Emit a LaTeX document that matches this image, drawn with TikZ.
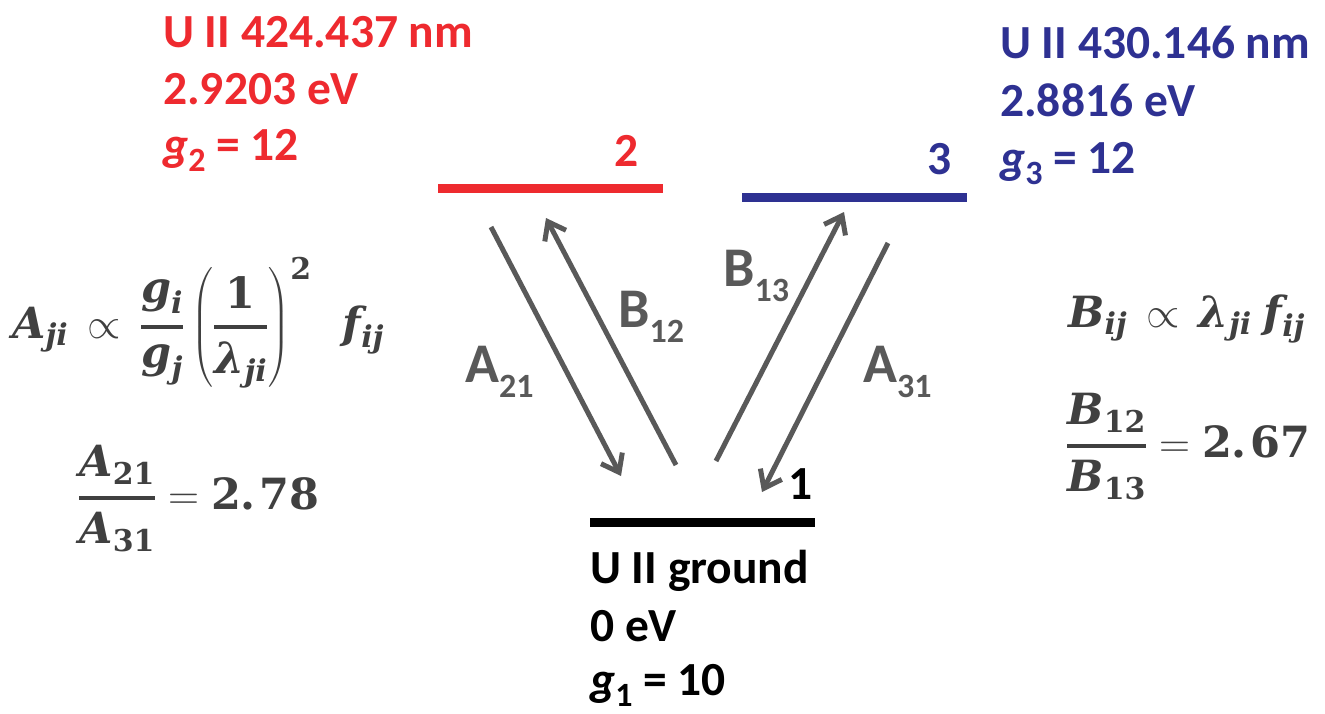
\RequirePackage{fix-cm}
\documentclass[tikz,border=0pt]{standalone}
\usepackage{amsmath}
\usepackage{fontspec}
\setmainfont{Carlito}
\newfontfamily\fmf{DejaVu Serif}
\usetikzlibrary{arrows.meta}
\definecolor{lred}{HTML}{EE2A2F}
\definecolor{lblue}{HTML}{2E3192}
\definecolor{agrey}{HTML}{595959}
\definecolor{fgrey}{HTML}{404040}
\newcommand{\gsub}[2]{{\itshape #1}\raisebox{-11pt}[0pt][0pt]{\fontsize{34}{34}\selectfont #2}}
\newcommand{\tsub}[2]{#1\raisebox{-15pt}[0pt][0pt]{\fontsize{34}{34}\selectfont #2}}
% formula pieces
\newcommand{\mv}[1]{\hbox{\fontsize{43}{48}\fmf\bfseries\itshape #1}}
\newcommand{\mb}[1]{\hbox{\fontsize{43}{48}\fmf\bfseries #1}}
\newcommand{\ms}[1]{\hbox{\fontsize{30}{34}\fmf\bfseries\itshape #1}}
\newcommand{\msb}[1]{\hbox{\fontsize{30}{34}\fmf\bfseries #1}}
\newcommand{\fr}[2]{\genfrac{}{}{4pt}{0}{#1}{#2}}
\tikzset{
  lbl/.style={anchor=base west, inner sep=0pt, font=\fontsize{47.5}{56}\selectfont\bfseries},
  trans/.style={draw=agrey, line width=5pt, -{Straight Barb[length=16pt,width=24pt]}},
  tlbl/.style={anchor=base west, inner sep=0pt, text=agrey, font=\fontsize{56}{60}\selectfont\bfseries},
  lev/.style={line width=9pt},
  frm/.style={anchor=base west, inner sep=0pt, text=fgrey, font=\fontsize{43}{48}\selectfont},
}
\begin{document}
\begin{tikzpicture}[x=1pt,y=-1pt]
\useasboundingbox (0,0) rectangle (1325,713);
% levels
\draw[lev, draw=lred] (438,188) coordinate (l2a) -- (663,188) coordinate (l2b);
\draw[lev, draw=lblue] (742,197) coordinate (l3a) -- (967,197) coordinate (l3b);
\draw[lev, draw=black] (590,522) coordinate (l1a) -- (815,522) coordinate (l1b);
% level numbers
\node[lbl, text=lred] (n2) at (614,166) {2};
\node[lbl, text=lblue] (n3) at (927,174) {3};
\node[lbl, text=black] (n1) at (788,499) {1};
% level descriptions
\node[lbl, text=lred] (t2a) at (163,47) {U II 424.437 nm};
\node[lbl, text=lred] (t2b) at (163,104) {2.9203 eV};
\node[lbl, text=lred] (t2c) at (163,160) {\gsub{g}{2} = 12};
\node[lbl, text=lblue] (t3a) at (1000,58) {U II 430.146 nm};
\node[lbl, text=lblue] (t3b) at (1000,116) {2.8816 eV};
\node[lbl, text=lblue] (t3c) at (1000,173) {\gsub{g}{3} = 12};
\node[lbl, text=black] (t1a) at (590,583) {U II ground};
\node[lbl, text=black] (t1b) at (590,641) {0 eV};
\node[lbl, text=black] (t1c) at (590,695) {\gsub{g}{1} = 10};
% transition arrows
\coordinate (a21s) at (491,227);
\coordinate (a21e) at (621,476);
\coordinate (b12s) at (676,465);
\coordinate (b12e) at (546,218);
\coordinate (b13s) at (716,461);
\coordinate (b13e) at (844,212);
\coordinate (a31s) at (888,243);
\coordinate (a31e) at (762,492);
\draw[trans] (a21s) -- (a21e);
\draw[trans] (b12s) -- (b12e);
\draw[trans] (b13s) -- (b13e);
\draw[trans] (a31s) -- (a31e);
\node[tlbl] (la21) at (465,382) {\tsub{A}{21}};
\node[tlbl] (lb12) at (618,327) {\tsub{B}{12}};
\node[tlbl] (lb13) at (723,286) {\tsub{B}{13}};
\node[tlbl] (la31) at (863,382) {\tsub{A}{31}};
% formulas
\node[frm] (f1) at (12,338) {$\mv{A}_{\ms{ji}}\,\propto\,\fr{\mv{g}_{\ms{i}}}{\mv{g}_{\ms{j}}}\left(\fr{\mb{1}}{\mv{λ}_{\ms{ji}}}\right)^{\msb{2}}\;\;\mv{f}_{\ms{ij}}$};
\node[frm] (f2) at (78,509) {$\fr{\mv{A}_{\msb{21}}}{\mv{A}_{\msb{31}}} = \mb{2.\kern4pt78}$};
\node[frm] (f3) at (1068,327) {$\mv{B}_{\ms{ij}}\,\propto\,\mv{λ}_{\ms{ji}}\;\mv{f}_{\ms{ij}}$};
\node[frm] (f4) at (1066,457) {$\fr{\mv{B}_{\msb{12}}}{\mv{B}_{\msb{13}}} = \mb{2.\kern4pt67}$};
\end{tikzpicture}
\end{document}
